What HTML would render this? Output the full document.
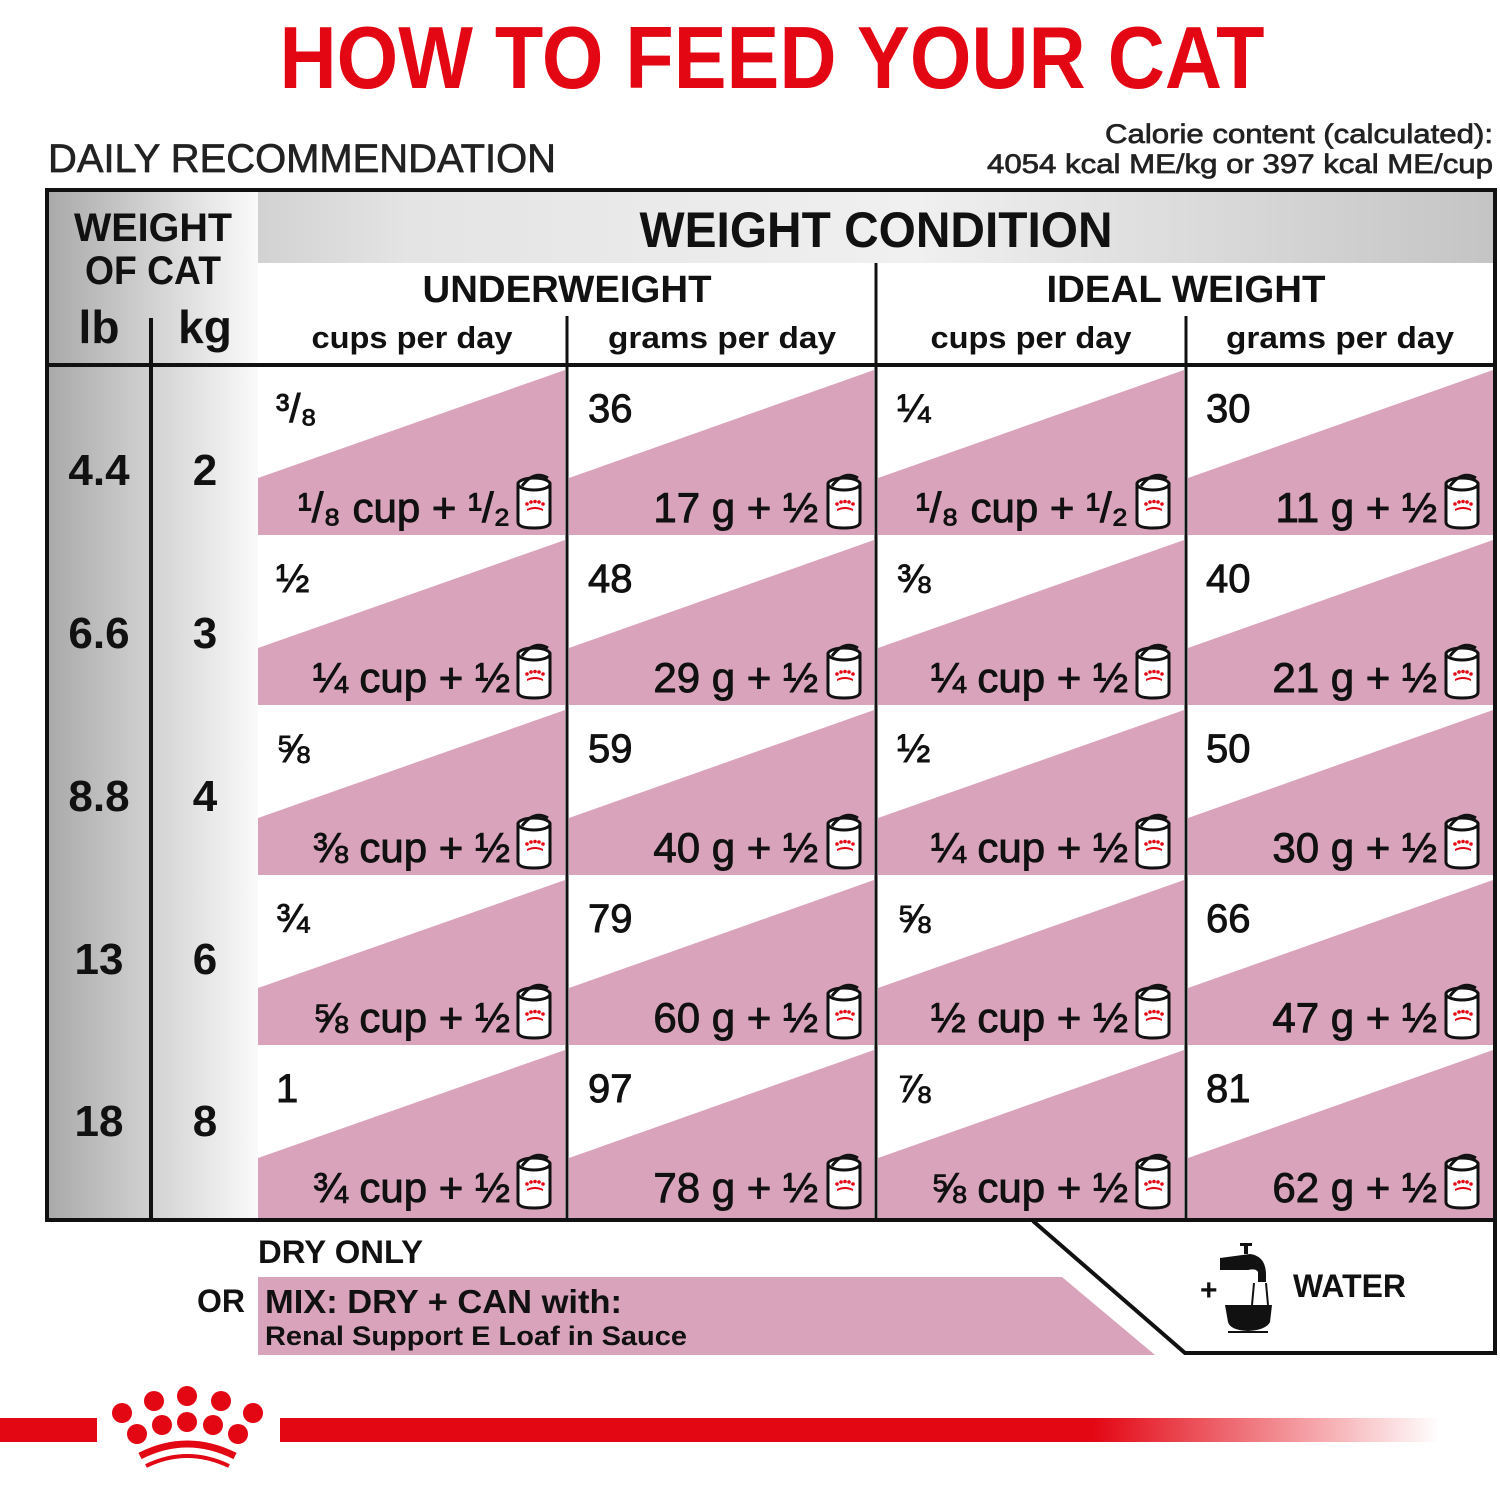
<!DOCTYPE html>
<html><head><meta charset="utf-8"><style>
html,body{margin:0;padding:0;background:#fff;}
svg{display:block;font-family:"Liberation Sans","DejaVu Sans",sans-serif;}
.b{font-weight:bold;}
.c{font-size:40px;fill:#111;stroke:#111;stroke-width:0.9;}
.m{font-size:42px;fill:#111;text-anchor:end;stroke:#111;stroke-width:0.9;}
.n{font-size:44px;font-weight:bold;fill:#111;text-anchor:middle;}
.t{stroke:#222;stroke-width:0.7;}
</style></head><body>
<svg width="1500" height="1500" viewBox="0 0 1500 1500" xmlns="http://www.w3.org/2000/svg">
<defs>
<linearGradient id="hg" x1="0" x2="1" y1="0" y2="0">
<stop offset="0" stop-color="#b9b9b9"/><stop offset="0.25" stop-color="#e4e4e4"/><stop offset="0.6" stop-color="#f0f0f0"/><stop offset="1" stop-color="#c4c4c4"/>
</linearGradient>
<linearGradient id="lg" x1="0" x2="1" y1="0" y2="0">
<stop offset="0" stop-color="#a9a9a9"/><stop offset="0.5" stop-color="#d2d2d2"/><stop offset="1" stop-color="#fafafa"/>
</linearGradient>
<linearGradient id="rl" x1="0" x2="1" y1="0" y2="0">
<stop offset="0" stop-color="#e30613"/><stop offset="0.7" stop-color="#e30613"/><stop offset="1" stop-color="#e30613" stop-opacity="0"/>
</linearGradient>
<g id="can">
<path d="M0,8 L0,46 Q0,52 16,52 Q32,52 32,46 L32,8 Z" fill="#fff" stroke="#111" stroke-width="3"/>
<ellipse cx="16" cy="8" rx="16" ry="6" fill="#fff" stroke="#111" stroke-width="3"/>
<path d="M4,10 Q16,-6 30,2" fill="none" stroke="#111" stroke-width="3"/>
<g fill="#e30613"><circle cx="9" cy="28" r="1.8"/><circle cx="13" cy="26" r="1.8"/><circle cx="17" cy="25.5" r="1.8"/><circle cx="21" cy="26" r="1.8"/><circle cx="25" cy="28" r="1.8"/><path d="M9,33 Q17,29 25,33 L25,35 Q17,31 9,35Z"/></g>
</g>
</defs>

<text x="772" y="88" text-anchor="middle" class="b" font-size="88" fill="#e30613" textLength="985" lengthAdjust="spacingAndGlyphs">HOW TO FEED YOUR CAT</text>
<text x="48" y="172" font-size="40" fill="#222" class="t" textLength="508" lengthAdjust="spacingAndGlyphs">DAILY RECOMMENDATION</text>
<text x="1493" y="143" text-anchor="end" font-size="27" fill="#222" class="t" textLength="388" lengthAdjust="spacingAndGlyphs">Calorie content (calculated):</text>
<text x="1493" y="173" text-anchor="end" font-size="27" fill="#222" class="t" textLength="506" lengthAdjust="spacingAndGlyphs">4054 kcal ME/kg or 397 kcal ME/cup</text>

<rect x="47" y="190" width="1448" height="176" fill="url(#hg)"/>
<rect x="47" y="190" width="211" height="1030" fill="url(#lg)"/>
<rect x="258" y="263" width="1237" height="102" fill="#fff"/>

<text x="876" y="247" text-anchor="middle" class="b" font-size="50" fill="#111" textLength="473" lengthAdjust="spacingAndGlyphs">WEIGHT CONDITION</text>
<text x="153" y="241" text-anchor="middle" class="b" font-size="40" fill="#111" textLength="158" lengthAdjust="spacingAndGlyphs">WEIGHT</text>
<text x="153" y="284" text-anchor="middle" class="b" font-size="40" fill="#111" textLength="136" lengthAdjust="spacingAndGlyphs">OF CAT</text>
<text x="99" y="343" text-anchor="middle" class="b" font-size="46" fill="#111">lb</text>
<text x="205" y="343" text-anchor="middle" class="b" font-size="46" fill="#111">kg</text>
<text x="567" y="302" text-anchor="middle" class="b" font-size="38" fill="#111" textLength="289" lengthAdjust="spacingAndGlyphs">UNDERWEIGHT</text>
<text x="1186" y="302" text-anchor="middle" class="b" font-size="38" fill="#111" textLength="279" lengthAdjust="spacingAndGlyphs">IDEAL WEIGHT</text>
<g class="b" font-size="31" fill="#111" text-anchor="middle">
<text x="412" y="348" textLength="201" lengthAdjust="spacingAndGlyphs">cups per day</text>
<text x="722" y="348" textLength="228" lengthAdjust="spacingAndGlyphs">grams per day</text>
<text x="1031" y="348" textLength="201" lengthAdjust="spacingAndGlyphs">cups per day</text>
<text x="1340" y="348" textLength="228" lengthAdjust="spacingAndGlyphs">grams per day</text>
</g>

<g fill="#d9a4bb">
<polygon points="258,478 565,370 565,535 258,535"/><polygon points="569,478 874,370 874,535 569,535"/><polygon points="878,478 1184,370 1184,535 878,535"/><polygon points="1188,478 1493,370 1493,535 1188,535"/>
<polygon points="258,648 565,540 565,705 258,705"/><polygon points="569,648 874,540 874,705 569,705"/><polygon points="878,648 1184,540 1184,705 878,705"/><polygon points="1188,648 1493,540 1493,705 1188,705"/>
<polygon points="258,818 565,710 565,875 258,875"/><polygon points="569,818 874,710 874,875 569,875"/><polygon points="878,818 1184,710 1184,875 878,875"/><polygon points="1188,818 1493,710 1493,875 1188,875"/>
<polygon points="258,988 565,880 565,1045 258,1045"/><polygon points="569,988 874,880 874,1045 569,1045"/><polygon points="878,988 1184,880 1184,1045 878,1045"/><polygon points="1188,988 1493,880 1493,1045 1188,1045"/>
<polygon points="258,1158 565,1050 565,1218 258,1218"/><polygon points="569,1158 874,1050 874,1218 569,1218"/><polygon points="878,1158 1184,1050 1184,1218 878,1218"/><polygon points="1188,1158 1493,1050 1493,1218 1188,1218"/>
</g>

<g stroke="#111" fill="none">
<rect x="47" y="190" width="1448" height="1030" stroke-width="4"/>
<line x1="47" y1="365" x2="1495" y2="365" stroke-width="4"/>
<line x1="151" y1="318" x2="151" y2="1220" stroke-width="4"/>
<line x1="567" y1="316" x2="567" y2="1220" stroke-width="3"/>
<line x1="876" y1="263" x2="876" y2="1220" stroke-width="3"/>
<line x1="1186" y1="316" x2="1186" y2="1220" stroke-width="3"/>
</g>

<text class="n" x="99" y="485">4.4</text><text class="n" x="205" y="485">2</text>
<text class="n" x="99" y="648">6.6</text><text class="n" x="205" y="648">3</text>
<text class="n" x="99" y="811">8.8</text><text class="n" x="205" y="811">4</text>
<text class="n" x="99" y="974">13</text><text class="n" x="205" y="974">6</text>
<text class="n" x="99" y="1136">18</text><text class="n" x="205" y="1136">8</text>

<g class="c">
<text x="276" y="422">³/₈</text><text x="588" y="422">36</text><text x="897" y="422">¼</text><text x="1206" y="422">30</text>
<text x="276" y="592">½</text><text x="588" y="592">48</text><text x="897" y="592">⅜</text><text x="1206" y="592">40</text>
<text x="276" y="762">⅝</text><text x="588" y="762">59</text><text x="897" y="762">½</text><text x="1206" y="762">50</text>
<text x="276" y="932">¾</text><text x="588" y="932">79</text><text x="897" y="932">⅝</text><text x="1206" y="932">66</text>
<text x="276" y="1102">1</text><text x="588" y="1102">97</text><text x="897" y="1102">⅞</text><text x="1206" y="1102">81</text>
</g>

<g class="m">
<text x="510" y="522">¹/₈ cup + ¹/₂</text><text x="818" y="522">17 g + ½</text><text x="1128" y="522">¹/₈ cup + ¹/₂</text><text x="1437" y="522">11 g + ½</text>
<text x="510" y="692">¼ cup + ½</text><text x="818" y="692">29 g + ½</text><text x="1128" y="692">¼ cup + ½</text><text x="1437" y="692">21 g + ½</text>
<text x="510" y="862">⅜ cup + ½</text><text x="818" y="862">40 g + ½</text><text x="1128" y="862">¼ cup + ½</text><text x="1437" y="862">30 g + ½</text>
<text x="510" y="1032">⅝ cup + ½</text><text x="818" y="1032">60 g + ½</text><text x="1128" y="1032">½ cup + ½</text><text x="1437" y="1032">47 g + ½</text>
<text x="510" y="1202">¾ cup + ½</text><text x="818" y="1202">78 g + ½</text><text x="1128" y="1202">⅝ cup + ½</text><text x="1437" y="1202">62 g + ½</text>
</g>
<g>
<use href="#can" x="518" y="476"/><use href="#can" x="828" y="476"/><use href="#can" x="1137" y="476"/><use href="#can" x="1446" y="476"/>
<use href="#can" x="518" y="646"/><use href="#can" x="828" y="646"/><use href="#can" x="1137" y="646"/><use href="#can" x="1446" y="646"/>
<use href="#can" x="518" y="816"/><use href="#can" x="828" y="816"/><use href="#can" x="1137" y="816"/><use href="#can" x="1446" y="816"/>
<use href="#can" x="518" y="986"/><use href="#can" x="828" y="986"/><use href="#can" x="1137" y="986"/><use href="#can" x="1446" y="986"/>
<use href="#can" x="518" y="1156"/><use href="#can" x="828" y="1156"/><use href="#can" x="1137" y="1156"/><use href="#can" x="1446" y="1156"/>
</g>

<polygon points="258,1277 1062,1277 1155,1355 258,1355" fill="#d9a4bb"/>
<text x="258" y="1263" class="b" font-size="32" fill="#111" textLength="165" lengthAdjust="spacingAndGlyphs">DRY ONLY</text>
<text x="197" y="1312" class="b" font-size="32" fill="#111">OR</text>
<text x="265" y="1313" class="b" font-size="33" fill="#111" textLength="357" lengthAdjust="spacingAndGlyphs">MIX: DRY + CAN with:</text>
<text x="265" y="1345" class="b" font-size="27" fill="#111" textLength="422" lengthAdjust="spacingAndGlyphs">Renal Support E Loaf in Sauce</text>
<polyline points="1033,1221 1185,1353 1495,1353 1495,1221" fill="none" stroke="#111" stroke-width="4"/>
<text x="1200" y="1300" class="b" font-size="30" fill="#111">+</text>
<g fill="#111">
<rect x="1240" y="1243" width="12" height="3"/><rect x="1244" y="1246" width="4" height="8"/>
<path d="M1220,1258 L1250,1254 Q1266,1256 1266,1275 L1266,1282 L1258,1282 L1258,1272 Q1256,1268 1248,1270 L1220,1270 Z"/>
<path d="M1225,1305 L1272,1305 L1270,1322 Q1266,1330 1248,1331 Q1230,1330 1228,1322 Z"/>
<rect x="1228" y="1331" width="40" height="2"/>
<path d="M1254,1283 L1252,1305 M1266,1283 L1268,1305" stroke="#111" stroke-width="2"/>
</g>
<text x="1293" y="1297" class="b" font-size="32" fill="#111" textLength="113" lengthAdjust="spacingAndGlyphs">WATER</text>

<rect x="0" y="1418" width="97" height="24" fill="#e30613"/>
<rect x="280" y="1418" width="1160" height="24" fill="url(#rl)"/>
<g fill="#e30613">
<circle cx="122" cy="1413" r="10"/><circle cx="154" cy="1401" r="10"/><circle cx="187" cy="1396" r="10"/><circle cx="221" cy="1401" r="10"/><circle cx="253" cy="1413" r="10"/>
<circle cx="137" cy="1434" r="10"/><circle cx="162" cy="1425" r="10"/><circle cx="187" cy="1422" r="10"/><circle cx="213" cy="1425" r="10"/><circle cx="238" cy="1434" r="10"/>
</g>
<path d="M140,1456 Q187,1432 235,1456" fill="none" stroke="#e30613" stroke-width="7"/>
<path d="M146,1466 Q187,1446 229,1466" fill="none" stroke="#e30613" stroke-width="4"/>
</svg>
</body></html>
